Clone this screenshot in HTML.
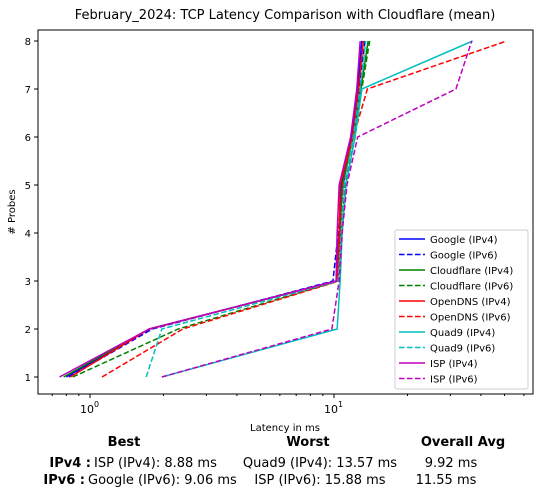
<!DOCTYPE html>
<html><head><meta charset="utf-8"><style>
body{margin:0;background:#fff;font-family:"DejaVu Sans","Liberation Sans",sans-serif;}
svg text{font-family:"DejaVu Sans","Liberation Sans",sans-serif;}
</style></head><body>
<svg id="c" width="541" height="496" xmlns="http://www.w3.org/2000/svg"></svg>
<script>
const seriesNames=["Google (IPv4)","Google (IPv6)","Cloudflare (IPv4)","Cloudflare (IPv6)","OpenDNS (IPv4)","OpenDNS (IPv6)","Quad9 (IPv4)","Quad9 (IPv6)","ISP (IPv4)","ISP (IPv6)"];
const probes=[1,2,3,4,5,6,7,8];
const googleV4=[0.80,1.75,10.2,10.5,10.7,11.8,12.5,13.0];
const googleV6=[0.82,1.8,9.9,10.4,10.9,11.9,12.7,13.4];
const cloudflareV4=[0.78,1.75,10.3,10.6,10.8,12.0,12.9,13.8];
const cloudflareV6=[0.85,2.3,10.4,10.7,11.1,12.2,13.0,14.0];
const opendnsV4=[0.83,1.75,10.3,10.5,10.6,11.9,12.6,13.2];
const opendnsV6=[1.12,2.4,10.5,10.6,10.9,12.0,13.7,51.0];
const quad9V4=[1.97,10.3,10.6,10.8,11.2,12.2,13.0,37.0];
const quad9V6=[1.7,1.97,10.4,10.7,11.0,12.0,12.8,13.5];
const ispV4=[0.75,1.75,10.2,10.3,10.5,11.7,12.4,12.8];
const ispV6=[1.97,9.8,10.5,10.8,11.3,12.5,31.6,36.7];
const allData=[googleV4,googleV6,cloudflareV4,cloudflareV6,opendnsV4,opendnsV6,quad9V4,quad9V6,ispV4,ispV6];
const colors=["#0000ff","#0000ff","#008000","#008000","#ff0000","#ff0000","#00bfbf","#00bfbf","#bf00bf","#bf00bf"];
const yTicks=[1,2,3,4,5,6,7,8];
const L=38,R=533,T=30,B=394;
const x=v=>90+244*Math.log10(v);
const y=v=>377-48*(v-1);
const svg=document.getElementById('c');
const NS="http://www.w3.org/2000/svg";
function mk(t,a,p){const e=document.createElementNS(NS,t);for(const k in a)e.setAttribute(k,a[k]);(p||svg).appendChild(e);return e;}
let e;
e=mk('text',{x:285,y:19,'text-anchor':'middle','font-size':13});e.textContent="February_2024: TCP Latency Comparison with Cloudflare (mean)";


allData.forEach((d,i)=>{
 const p=mk('polyline',{points:d.map((v,j)=>x(v)+','+y(probes[j])).join(' '),fill:'none',stroke:colors[i],'stroke-width':1.5,'stroke-dasharray':i%2?'5.5,2.5':'none'});
 
 
});
e=mk('rect',{x:L,y:T,width:R-L,height:B-T,fill:'none',stroke:'#000','stroke-width':1});


yTicks.forEach(t=>{
 mk('line',{x1:L-4,x2:L,y1:y(t),y2:y(t),stroke:'#000'});
 const tx=mk('text',{x:L-7,y:y(t)+4,'text-anchor':'end','font-size':10});tx.textContent=t;
 
 
});
[1,10].forEach((v,k)=>{
 mk('line',{x1:x(v),x2:x(v),y1:B,y2:B+4,stroke:'#000'});
 const tx=mk('text',{x:x(v)-3,y:B+19,'text-anchor':'middle','font-size':11});tx.textContent="10";
 
 
 const s=mk('text',{x:x(v)+4,y:B+13,'font-size':8});s.textContent=String(k);
});
[0.7,0.8,0.9,2,3,4,5,6,7,8,9,20,30,40,50,60].forEach(v=>mk('line',{x1:x(v),x2:x(v),y1:B,y2:B+2,stroke:'#000'}));
e=mk('text',{x:285,y:431,'text-anchor':'middle','font-size':10});e.textContent="Latency in ms";


e=mk('text',{x:15,y:212,'text-anchor':'middle','font-size':10,transform:'rotate(-90 15 212)'});e.textContent="# Probes";


const lg=mk('g',{});


mk('rect',{x:395,y:230,width:133,height:159,fill:'#fff',stroke:'#ccc',rx:2},lg);
seriesNames.forEach((n,i)=>{
 const yy=239+i*15.5;
 mk('line',{x1:399,x2:425,y1:yy,y2:yy,stroke:colors[i],'stroke-width':1.5,'stroke-dasharray':i%2?'5.5,2.5':'none'},lg);
 const t=mk('text',{x:430,y:yy+4,'font-size':10},lg);t.textContent=n;
 
 
});
const rows=[["Best",124,446,true,'middle'],["Worst",308,446,true,'middle'],["Overall Avg",463,446,true,'middle'],
["IPv4 :",91,467,true,'end'],["ISP (IPv4): 8.88 ms",94,467,false,'start'],["Quad9 (IPv4): 13.57 ms",320,467,false,'middle'],["9.92 ms",451,467,false,'middle'],
["IPv6 :",85,484,true,'end'],["Google (IPv6): 9.06 ms",88,484,false,'start'],["ISP (IPv6): 15.88 ms",320,484,false,'middle'],["11.55 ms",446,484,false,'middle']];
rows.forEach(r=>{
 const t=mk('text',{x:r[1],y:r[2],'text-anchor':r[4],'font-size':13,'font-weight':r[3]?'bold':'normal'});t.textContent=r[0];
 
 
});
</script>
</body></html>
